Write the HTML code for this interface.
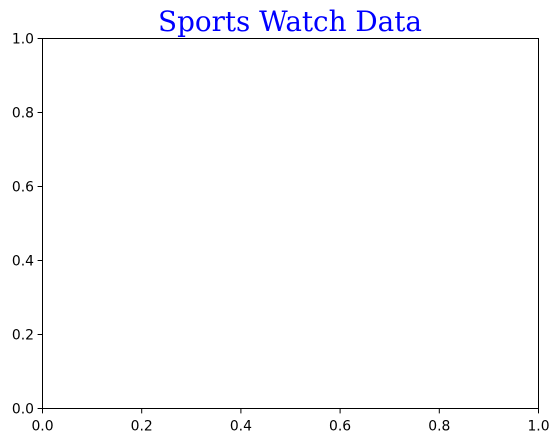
<!DOCTYPE html>
<html><head><meta charset="utf-8"><style>
body{margin:0;background:#fff;width:558px;height:442px;overflow:hidden}
svg text{font-family:"DejaVu Sans","Liberation Sans",sans-serif;font-size:13.9px;fill:#000}
</style></head><body>
<svg width="558" height="442">
<text x="290" y="31" text-anchor="middle" style="font-family:'DejaVu Serif','Liberation Serif',serif;font-size:27.8px;fill:#0000ff">Sports Watch Data</text>
<rect x="42.5" y="38.5" width="496" height="370" fill="none" stroke="#000" stroke-width="1"/>
<g id="ticks"></g>
</svg>
<script>
const xTicks=[0,0.2,0.4,0.6,0.8,1.0];
const yTicks=[0,0.2,0.4,0.6,0.8,1.0];
const L=42.5,R=538.5,T=38.5,B=408.5;
const sx=v=>L+v*(R-L), sy=v=>B-v*(B-T);
const g=document.getElementById('ticks');const ns='http://www.w3.org/2000/svg';
xTicks.forEach(v=>{
 const l=document.createElementNS(ns,'line');
 
 
 l.setAttribute('x1',sx(v));l.setAttribute('x2',sx(v));l.setAttribute('y1',B);l.setAttribute('y2',B+4.9);l.setAttribute('stroke','#000');g.appendChild(l);
 const t=document.createElementNS(ns,'text');
 
 
 t.setAttribute('x',sx(v));t.setAttribute('y',B+22);t.setAttribute('text-anchor','middle');t.textContent=v.toFixed(1);g.appendChild(t);
});
yTicks.forEach(v=>{
 const l=document.createElementNS(ns,'line');
 
 
 l.setAttribute('x1',L-4.9);l.setAttribute('x2',L);l.setAttribute('y1',sy(v));l.setAttribute('y2',sy(v));l.setAttribute('stroke','#000');g.appendChild(l);
 const t=document.createElementNS(ns,'text');
 
 
 t.setAttribute('x',L-8.5);t.setAttribute('y',sy(v)+5);t.setAttribute('text-anchor','end');t.textContent=v.toFixed(1);g.appendChild(t);
});
</script>
</body></html>
